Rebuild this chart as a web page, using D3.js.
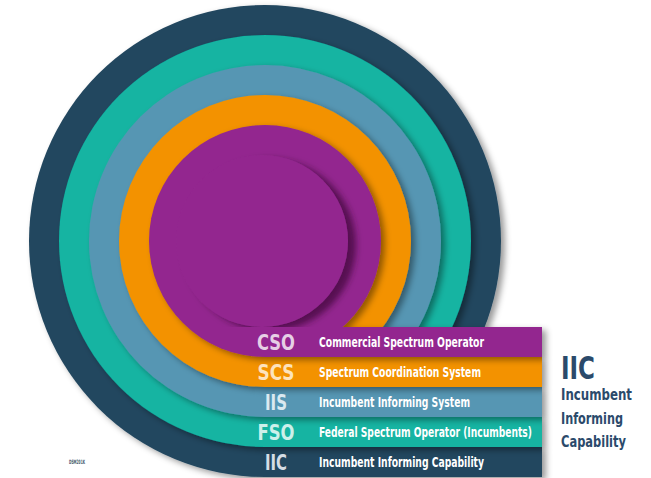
<!DOCTYPE html>
<html>
<head>
<meta charset="utf-8">
<script src="https://cdn.jsdelivr.net/npm/d3@7"></script>
<style>
 body { margin: 0; background: #fff; }
 text { font-family: "Liberation Sans Narrow", "DejaVu Sans Condensed", "Roboto", sans-serif; font-weight: bold; }
</style>
</head>
<body>
<script>
 // layers, inner to outer (top row to bottom row)
 var abbrs = ["CSO", "SCS", "IIS", "FSO", "IIC"];
 var names = ["Commercial Spectrum Operator", "Spectrum Coordination System", "Incumbent Informing System",
              "Federal Spectrum Operator (Incumbents)", "Incumbent Informing Capability"];
 var fills = ["#93278f", "#f39200", "#5796b3", "#12b4a2", "#23475f"];
 var abbrColors = ["#e6cfe5", "#fde3bd", "#dbe9f0", "#cdf0ea", "#d5dde5"];
 var sideTitle = "IIC";
 var sideLines = ["Incumbent", "Informing", "Capability"];

 var W = 651, H = 478;
 var cx = 265, cy = 241, barRight = 542;

 var svg = d3.select("body").append("svg")
   .attr("width", W)
   .attr("height", H);

 var defs = svg.append("defs");
 defs.append("filter").attr("id", "shadow")
   .attr("x", "-20%").attr("y", "-20%").attr("width", "140%").attr("height", "140%")
   .append("feDropShadow")
   .attr("dx", 4).attr("dy", 3).attr("stdDeviation", 3)
   .attr("flood-color", "#000").attr("flood-opacity", 0.4);
 defs.append("filter").attr("id", "innerShadow")
   .attr("x", "-20%").attr("y", "-20%").attr("width", "140%").attr("height", "140%")
   .append("feDropShadow")
   .attr("dx", 8).attr("dy", 4).attr("stdDeviation", 3)
   .attr("flood-color", "#2a0028").attr("flood-opacity", 0.6);

 // rows of the bars
 var y = d3.scaleBand().domain(abbrs).range([327, 477]).padding(0);
 var bw = y.bandwidth();
 var radius = function(a){ return y(a) + bw - cy; };

 defs.append("clipPath").attr("id", "aboveBars")
   .append("rect").attr("x", 0).attr("y", 0).attr("width", W).attr("height", y(abbrs[0]));

 // draw outer first
 var order = abbrs.map(function(a, i){ return i; }).reverse();
 order.forEach(function(i){
   var a = abbrs[i];
   var g = svg.append("g").attr("filter", "url(#shadow)");
   g.append("circle")
     .attr("cx", cx).attr("cy", cy).attr("r", radius(a))
     .attr("fill", fills[i]);
   g.append("rect")
     .attr("x", cx).attr("y", y(a))
     .attr("width", barRight - cx).attr("height", bw)
     .attr("fill", fills[i]);
 });

 // inner curl of the purple layer
 svg.append("g").attr("clip-path", "url(#aboveBars)")
   .append("circle")
   .attr("cx", cx - 3).attr("cy", cy).attr("r", radius(abbrs[0]) - bw)
   .attr("fill", fills[0])
   .attr("filter", "url(#innerShadow)");

 // bar labels
 var abbrW = {CSO: 38, SCS: 37, IIS: 22, FSO: 37, IIC: 22};
 var nameW = [165, 162, 151, 213, 165];
 abbrs.forEach(function(a, i){
   svg.append("text")
     .attr("x", 276).attr("y", y(a) + bw - 7)
     .attr("text-anchor", "middle")
     .attr("font-size", 22)
     .attr("textLength", abbrW[a]).attr("lengthAdjust", "spacingAndGlyphs")
     .attr("fill", abbrColors[i])
     .text(a);
   svg.append("text")
     .attr("x", 319).attr("y", y(a) + bw - 10)
     .attr("font-size", 14.5)
     .attr("textLength", nameW[i]).attr("lengthAdjust", "spacingAndGlyphs")
     .attr("fill", "#ffffff")
     .text(names[i]);
 });

 // side title
 svg.append("text")
   .attr("x", 561).attr("y", 379)
   .attr("font-size", 32)
   .attr("textLength", 34).attr("lengthAdjust", "spacingAndGlyphs")
   .attr("fill", "#2b4a6b")
   .text(sideTitle);
 var sideW = [71, 62, 65];
 sideLines.forEach(function(s, i){
   svg.append("text")
     .attr("x", 561).attr("y", 400 + i * 23.5)
     .attr("font-size", 15.5)
     .attr("textLength", sideW[i]).attr("lengthAdjust", "spacingAndGlyphs")
     .attr("fill", "#2b4a6b")
     .text(s);
 });

 // drawing code
 svg.append("text")
   .attr("x", 69).attr("y", 464)
   .attr("font-size", 6)
   .attr("textLength", 16).attr("lengthAdjust", "spacingAndGlyphs")
   .attr("fill", "#44556a")
   .text("DSM201K");
</script>
</body>
</html>
